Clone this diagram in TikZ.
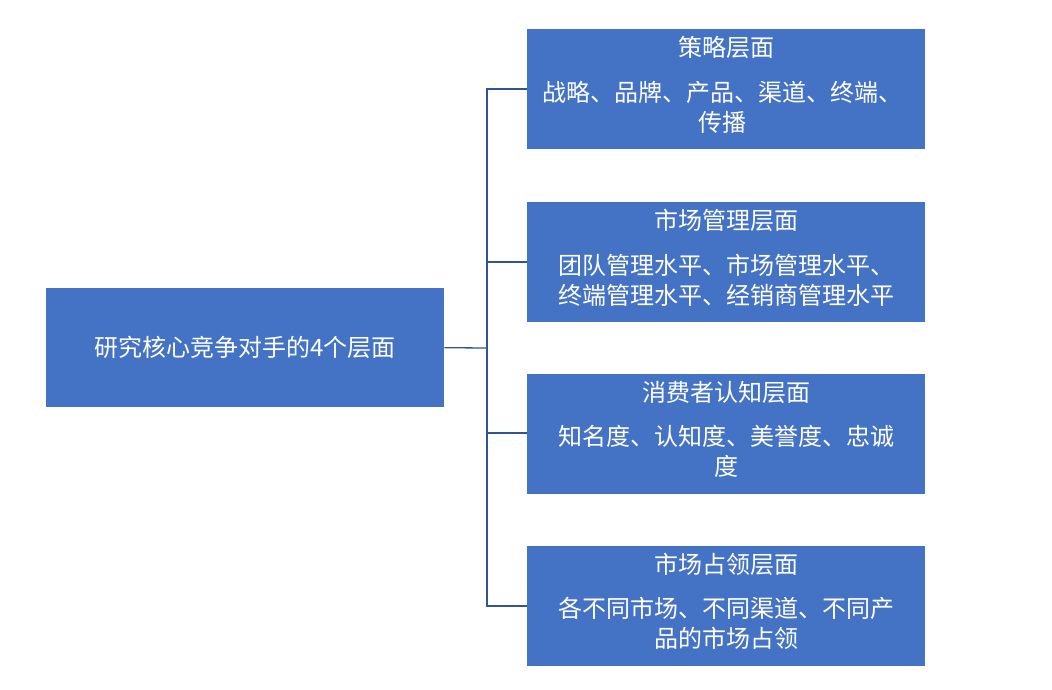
\documentclass[tikz,border=0pt]{standalone}
\usepackage{fontspec}
\setmainfont{Noto Sans CJK SC}
\begin{document}
\begin{tikzpicture}[x=1pt,y=-1pt,
  boxst/.style={fill=boxblue,draw=none,anchor=north west,inner sep=0pt},
  txt/.style={text=white,font=\fontsize{24}{30}\selectfont,align=center},
  conn/.style={draw=lineblue,line width=1.3pt}]
\definecolor{boxblue}{HTML}{4472C4}
\definecolor{lineblue}{HTML}{2F5597}
\useasboundingbox (0,0) rectangle (1052,690);
\node[boxst,minimum width=398pt,minimum height=119pt] (L) at (46,288) {};
\node[txt] at (L.center) {研究核心竞争对手的4个层面};
\foreach \n/\y in {A/29,B/202,C/374,D/546}{
  \node[boxst,minimum width=398pt,minimum height=120pt] (\n) at (527,\y) {};
}
\node[txt] at (726,47) {策略层面};
\node[txt,anchor=north] at (722,78) {战略、品牌、产品、渠道、终端、\\传播};
\node[txt] at (726,220) {市场管理层面};
\node[txt,anchor=north] at (726,251) {团队管理水平、市场管理水平、\\终端管理水平、经销商管理水平};
\node[txt] at (726,392) {消费者认知层面};
\node[txt,anchor=north] at (726,422) {知名度、认知度、美誉度、忠诚\\度};
\node[txt] at (726,564) {市场占领层面};
\node[txt,anchor=north] at (726,594) {各不同市场、不同渠道、不同产\\品的市场占领};
\coordinate (J) at (487,348);
\draw[conn] (L.east) -- (J);
\draw[conn] (A.west |- 0,89) -| (J);
\draw[conn] (D.west |- 0,606) -| (J);
\draw[conn] (B.west |- 0,262) -- (J |- 0,262);
\draw[conn] (C.west |- 0,433) -- (J |- 0,433);
\end{tikzpicture}
\end{document}
